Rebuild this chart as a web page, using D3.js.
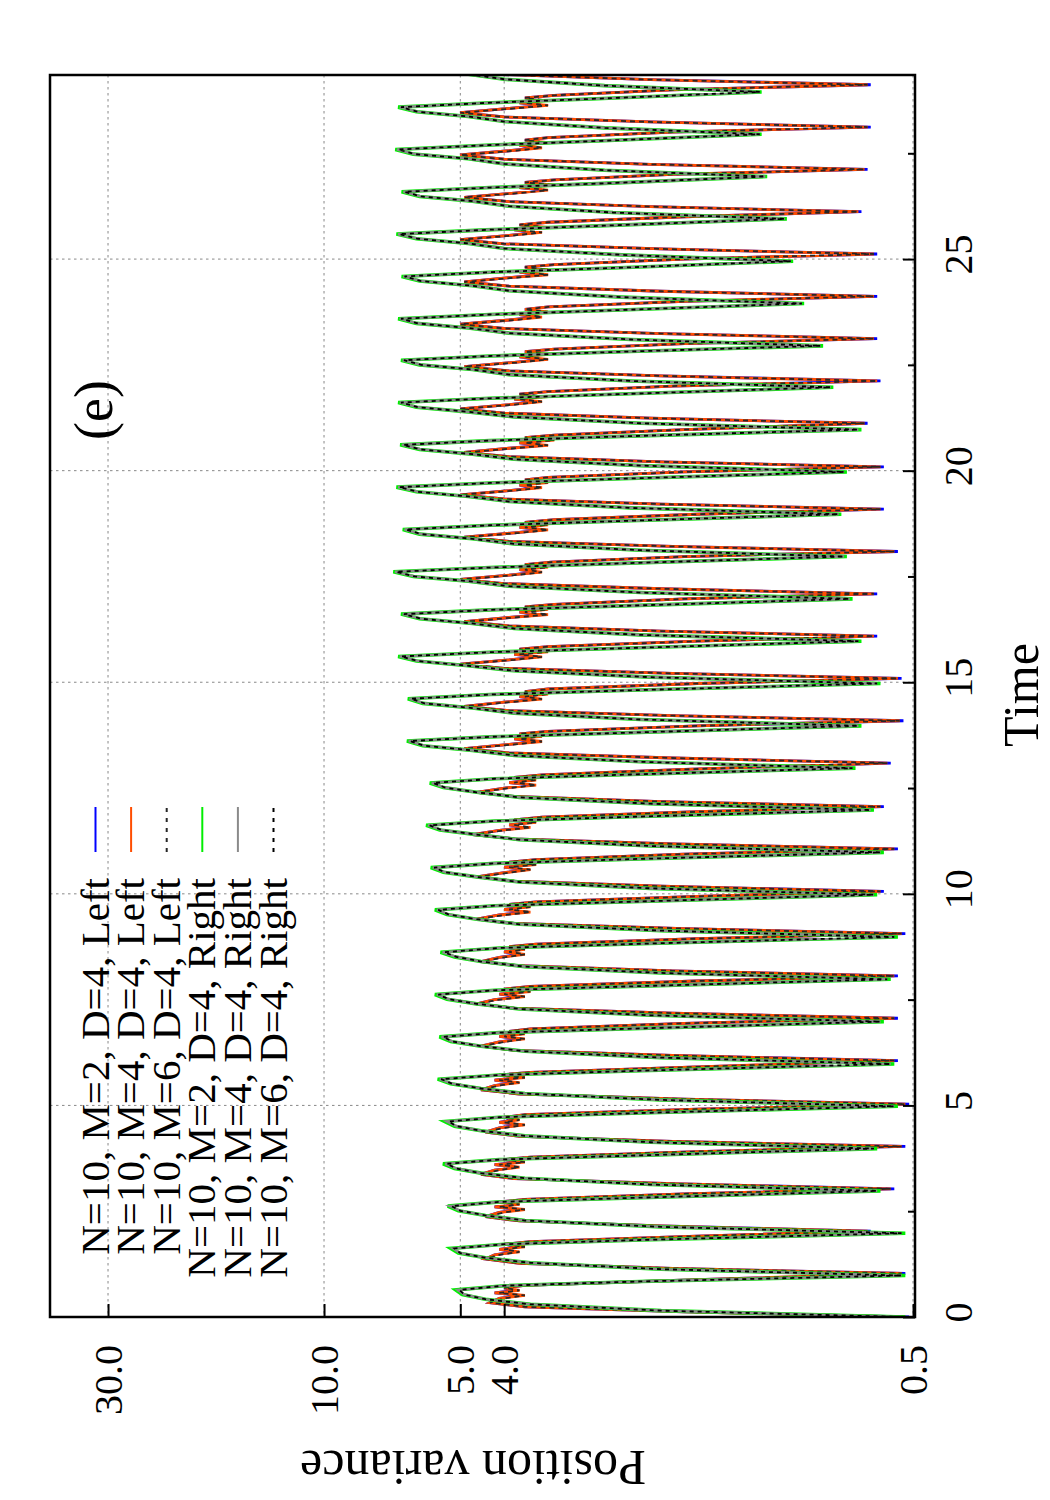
<!DOCTYPE html>
<html>
<head>
<meta charset="utf-8">
<script src="https://cdn.jsdelivr.net/npm/d3@7/dist/d3.min.js"></script>
<style>
body { margin: 0; background: #fff; }
text { font-family: "Liberation Serif", "Times New Roman", serif; fill: #000; }
</style>
</head>
<body>
<script>
// tick values
var timeMajor = [0, 5, 10, 15, 20, 25];
var timeMinor = [2.5, 7.5, 12.5, 17.5, 22.5, 27.5];
var varTicks = [0.5, 4, 5, 10, 30];

var seriesNames = ["N=10, M=2, D=4, Left", "N=10, M=4, D=4, Left", "N=10, M=6, D=4, Left",
                   "N=10, M=2, D=4, Right", "N=10, M=4, D=4, Right", "N=10, M=6, D=4, Right"];

// sample times, "Left" curves (one row per period)
var tLeft = [
 0.00,0.12,0.24,0.34,0.44,0.51,0.57,0.63,0.69,0.75,0.88,
 1.03,1.15,1.27,1.37,1.47,1.54,1.60,1.66,1.72,1.78,1.91,
 2.03,2.15,2.27,2.37,2.47,2.54,2.60,2.66,2.72,2.78,2.91,
 3.03,3.15,3.27,3.37,3.47,3.54,3.60,3.66,3.72,3.78,3.91,
 4.03,4.15,4.27,4.37,4.47,4.54,4.60,4.66,4.72,4.78,4.91,
 5.03,5.15,5.27,5.37,5.47,5.54,5.60,5.66,5.72,5.78,5.91,
 6.06,6.18,6.30,6.40,6.50,6.57,6.63,6.69,6.75,6.81,6.94,
 7.06,7.18,7.30,7.40,7.50,7.57,7.63,7.69,7.75,7.81,7.94,
 8.06,8.18,8.30,8.40,8.50,8.57,8.63,8.69,8.75,8.81,8.94,
 9.06,9.18,9.30,9.40,9.50,9.57,9.63,9.69,9.75,9.81,9.94,
 10.06,10.18,10.30,10.40,10.50,10.57,10.63,10.69,10.75,10.81,10.94,
 11.06,11.18,11.30,11.40,11.50,11.57,11.63,11.69,11.75,11.81,11.94,
 12.06,12.18,12.30,12.40,12.50,12.57,12.63,12.69,12.75,12.81,12.94,
 13.09,13.21,13.33,13.43,13.53,13.60,13.66,13.72,13.78,13.84,13.97,
 14.09,14.21,14.33,14.43,14.53,14.60,14.66,14.72,14.78,14.84,14.97,
 15.09,15.21,15.33,15.43,15.53,15.60,15.66,15.72,15.78,15.84,15.97,
 16.09,16.21,16.33,16.43,16.53,16.60,16.66,16.72,16.78,16.84,16.97,
 17.09,17.21,17.33,17.43,17.53,17.60,17.66,17.72,17.78,17.84,17.97,
 18.09,18.21,18.33,18.43,18.53,18.60,18.66,18.72,18.78,18.84,18.97,
 19.09,19.21,19.33,19.43,19.53,19.60,19.66,19.72,19.78,19.84,19.97,
 20.09,20.21,20.33,20.43,20.53,20.60,20.66,20.72,20.78,20.84,20.97,
 21.12,21.24,21.36,21.46,21.56,21.63,21.69,21.75,21.81,21.87,22.00,
 22.12,22.24,22.36,22.46,22.56,22.63,22.69,22.75,22.81,22.87,23.00,
 23.12,23.24,23.36,23.46,23.56,23.63,23.69,23.75,23.81,23.87,24.00,
 24.12,24.24,24.36,24.46,24.56,24.63,24.69,24.75,24.81,24.87,25.00,
 25.12,25.24,25.36,25.46,25.56,25.63,25.69,25.75,25.81,25.87,26.00,
 26.12,26.24,26.36,26.46,26.56,26.63,26.69,26.75,26.81,26.87,27.00,
 27.12,27.24,27.36,27.46,27.56,27.63,27.69,27.75,27.81,27.87,28.00,
 28.12,28.24,28.36,28.46,28.56,28.63,28.69,28.75,28.81,28.87,29.00,
 29.12,29.24,29.36,29.46,29.56,29.63,29.69,29.75,29.81,29.87,30.00
];

var leftM2 = [
 .51,1.6,3.6,4.3,4.1,3.7,4.2,3.8,4.0,3.6,1.5,
 .52,1.7,3.7,4.4,4.2,3.8,4.1,3.7,4.0,3.5,1.5,
 .62,1.8,3.7,4.4,4.1,3.7,4.2,3.8,4.1,3.6,1.6,
 .55,1.7,3.8,4.5,4.2,3.8,4.2,3.7,4.0,3.5,1.5,
 .52,1.7,3.7,4.4,4.1,3.7,4.1,3.8,4.0,3.6,1.5,
 .51,1.6,3.7,4.5,4.2,3.8,4.2,3.7,4.1,3.5,1.5,
 .54,1.7,3.8,4.5,4.1,3.7,4.1,3.7,3.9,3.5,1.6,
 .54,1.7,3.8,4.6,4.2,3.7,4.1,3.6,4.0,3.5,1.5,
 .54,1.7,3.7,4.5,4.1,3.7,4.0,3.7,3.9,3.4,1.5,
 .52,1.6,3.8,4.6,4.1,3.6,4.0,3.6,3.9,3.4,1.5,
 .58,1.8,3.8,4.6,4.0,3.6,4.0,3.5,3.9,3.4,1.6,
 .54,1.7,3.8,4.7,4.1,3.6,3.9,3.5,3.8,3.3,1.5,
 .58,1.8,3.8,4.6,4.0,3.5,3.9,3.5,3.8,3.3,1.6,
 .56,1.7,3.9,4.9,3.9,3.4,3.8,3.4,3.7,3.2,1.5,
 .525,1.7,3.9,4.9,4.0,3.4,3.7,3.3,3.6,3.2,1.5,
 .53,1.7,4.0,5.0,3.9,3.4,3.8,3.3,3.7,3.2,1.5,
 .60,1.8,3.9,4.9,3.9,3.3,3.7,3.3,3.6,3.1,1.6,
 .60,1.8,4.0,5.0,3.9,3.4,3.7,3.3,3.6,3.15,1.6,
 .54,1.7,3.9,4.9,3.8,3.3,3.7,3.3,3.6,3.1,1.5,
 .58,1.8,4.0,5.0,3.9,3.4,3.7,3.3,3.6,3.2,1.6,
 .58,1.8,3.9,4.9,3.9,3.3,3.7,3.2,3.6,3.1,1.6,
 .63,1.9,4.0,5.0,3.9,3.4,3.8,3.3,3.7,3.2,1.7,
 .59,1.8,3.9,4.9,3.8,3.3,3.7,3.3,3.6,3.1,1.6,
 .60,1.8,4.0,5.0,3.9,3.4,3.7,3.3,3.6,3.2,1.6,
 .60,1.8,3.9,4.9,3.9,3.3,3.7,3.3,3.6,3.1,1.6,
 .60,1.8,4.0,5.0,3.9,3.4,3.8,3.3,3.7,3.2,1.6,
 .65,1.9,3.9,4.9,3.8,3.3,3.7,3.2,3.6,3.1,1.7,
 .63,1.9,4.0,5.0,3.9,3.4,3.7,3.3,3.6,3.2,1.7,
 .62,1.9,4.0,5.0,3.9,3.3,3.7,3.3,3.6,3.1,1.7,
 .62,1.9,4.0,5.0,3.9,3.4,3.7,3.3,3.6,3.2,1.7
];

var leftM4 = [
 .52,1.6,3.6,4.3,4.1,3.6,4.2,3.7,4.0,3.6,1.5,
 .53,1.7,3.7,4.4,4.2,3.7,4.1,3.6,4.0,3.5,1.5,
 .63,1.8,3.7,4.4,4.1,3.6,4.2,3.7,4.1,3.6,1.6,
 .56,1.7,3.8,4.5,4.2,3.7,4.2,3.6,4.0,3.5,1.5,
 .53,1.7,3.7,4.4,4.1,3.6,4.1,3.7,4.0,3.6,1.5,
 .52,1.6,3.7,4.5,4.2,3.7,4.2,3.6,4.1,3.5,1.5,
 .55,1.7,3.8,4.5,4.1,3.6,4.1,3.6,3.9,3.5,1.6,
 .55,1.7,3.8,4.6,4.2,3.6,4.1,3.5,4.0,3.5,1.5,
 .55,1.7,3.7,4.5,4.1,3.6,4.0,3.6,3.9,3.4,1.5,
 .53,1.6,3.8,4.6,4.1,3.5,4.0,3.5,3.9,3.4,1.5,
 .59,1.8,3.8,4.6,4.0,3.5,4.0,3.4,3.9,3.4,1.6,
 .55,1.7,3.8,4.7,4.1,3.5,3.9,3.4,3.8,3.3,1.5,
 .59,1.8,3.8,4.6,4.0,3.4,3.9,3.4,3.8,3.3,1.6,
 .57,1.7,3.9,4.9,3.9,3.3,3.8,3.3,3.7,3.2,1.5,
 .535,1.7,3.9,4.9,4.0,3.3,3.7,3.2,3.6,3.2,1.5,
 .54,1.7,4.0,5.0,3.9,3.3,3.8,3.2,3.7,3.2,1.5,
 .61,1.8,3.9,4.9,3.9,3.2,3.7,3.2,3.6,3.1,1.6,
 .61,1.8,4.0,5.0,3.9,3.3,3.7,3.2,3.6,3.15,1.6,
 .55,1.7,3.9,4.9,3.8,3.2,3.7,3.2,3.6,3.1,1.5,
 .59,1.8,4.0,5.0,3.9,3.3,3.7,3.2,3.6,3.2,1.6,
 .59,1.8,3.9,4.9,3.9,3.2,3.7,3.1,3.6,3.1,1.6,
 .64,1.9,4.0,5.0,3.9,3.3,3.8,3.2,3.7,3.2,1.7,
 .60,1.8,3.9,4.9,3.8,3.2,3.7,3.2,3.6,3.1,1.6,
 .61,1.8,4.0,5.0,3.9,3.3,3.7,3.2,3.6,3.2,1.6,
 .61,1.8,3.9,4.9,3.9,3.2,3.7,3.2,3.6,3.1,1.6,
 .61,1.8,4.0,5.0,3.9,3.3,3.8,3.2,3.7,3.2,1.6,
 .66,1.9,3.9,4.9,3.8,3.2,3.7,3.1,3.6,3.1,1.7,
 .64,1.9,4.0,5.0,3.9,3.3,3.7,3.2,3.6,3.2,1.7,
 .63,1.9,4.0,5.0,3.9,3.2,3.7,3.2,3.6,3.1,1.7,
 .63,1.9,4.0,5.0,3.9,3.3,3.7,3.2,3.6,3.2,1.7
];

var leftM6 = [
 .52,1.6,3.6,4.3,4.0,3.6,4.1,3.7,4.0,3.6,1.5,
 .53,1.7,3.7,4.4,4.1,3.7,4.0,3.6,4.0,3.5,1.5,
 .63,1.8,3.7,4.4,4.0,3.6,4.1,3.7,4.1,3.6,1.6,
 .56,1.7,3.8,4.5,4.1,3.7,4.1,3.6,4.0,3.5,1.5,
 .53,1.7,3.7,4.4,4.0,3.6,4.0,3.7,4.0,3.6,1.5,
 .52,1.6,3.7,4.5,4.1,3.7,4.1,3.6,4.1,3.5,1.5,
 .55,1.7,3.8,4.5,4.0,3.6,4.0,3.6,3.9,3.5,1.6,
 .55,1.7,3.8,4.6,4.1,3.6,4.0,3.5,4.0,3.5,1.5,
 .55,1.7,3.7,4.5,4.0,3.6,3.9,3.6,3.9,3.4,1.5,
 .53,1.6,3.8,4.6,4.0,3.5,3.9,3.5,3.9,3.4,1.5,
 .59,1.8,3.8,4.6,3.9,3.5,3.9,3.4,3.9,3.4,1.6,
 .55,1.7,3.8,4.7,4.0,3.5,3.8,3.4,3.8,3.3,1.5,
 .59,1.8,3.8,4.6,3.9,3.4,3.8,3.4,3.8,3.3,1.6,
 .57,1.7,3.9,4.9,3.8,3.3,3.7,3.3,3.7,3.2,1.5,
 .535,1.7,3.9,4.9,3.9,3.3,3.6,3.2,3.6,3.2,1.5,
 .54,1.7,4.0,5.0,3.8,3.3,3.7,3.2,3.7,3.2,1.5,
 .61,1.8,3.9,4.9,3.8,3.2,3.6,3.2,3.6,3.1,1.6,
 .61,1.8,4.0,5.0,3.8,3.3,3.6,3.2,3.6,3.15,1.6,
 .55,1.7,3.9,4.9,3.7,3.2,3.6,3.2,3.6,3.1,1.5,
 .59,1.8,4.0,5.0,3.8,3.3,3.6,3.2,3.6,3.2,1.6,
 .59,1.8,3.9,4.9,3.8,3.2,3.6,3.1,3.6,3.1,1.6,
 .64,1.9,4.0,5.0,3.8,3.3,3.7,3.2,3.7,3.2,1.7,
 .60,1.8,3.9,4.9,3.7,3.2,3.6,3.2,3.6,3.1,1.6,
 .61,1.8,4.0,5.0,3.8,3.3,3.6,3.2,3.6,3.2,1.6,
 .61,1.8,3.9,4.9,3.8,3.2,3.6,3.2,3.6,3.1,1.6,
 .61,1.8,4.0,5.0,3.8,3.3,3.7,3.2,3.7,3.2,1.6,
 .66,1.9,3.9,4.9,3.7,3.2,3.6,3.1,3.6,3.1,1.7,
 .64,1.9,4.0,5.0,3.8,3.3,3.6,3.2,3.6,3.2,1.7,
 .63,1.9,4.0,5.0,3.8,3.2,3.6,3.2,3.6,3.1,1.7,
 .63,1.9,4.0,5.0,3.8,3.3,3.6,3.2,3.6,3.2,1.7
];

// sample times, "Right" curves
var tRight = [
 0.00,0.15,0.30,0.42,0.53,0.64,0.74,0.84,
 0.98,1.13,1.28,1.40,1.51,1.62,1.72,1.82,
 1.98,2.13,2.28,2.40,2.51,2.62,2.72,2.82,
 2.98,3.13,3.28,3.40,3.51,3.62,3.72,3.82,
 3.98,4.13,4.28,4.40,4.51,4.62,4.72,4.82,
 4.98,5.13,5.28,5.40,5.51,5.62,5.72,5.82,
 5.98,6.13,6.28,6.40,6.51,6.62,6.72,6.82,
 6.98,7.13,7.28,7.40,7.51,7.62,7.72,7.82,
 7.98,8.13,8.28,8.40,8.51,8.62,8.72,8.82,
 8.98,9.13,9.28,9.40,9.51,9.62,9.72,9.82,
 9.98,10.13,10.28,10.40,10.51,10.62,10.72,10.82,
 10.98,11.13,11.28,11.40,11.51,11.62,11.72,11.82,
 11.98,12.13,12.28,12.40,12.51,12.62,12.72,12.82,
 12.97,13.12,13.27,13.39,13.50,13.61,13.71,13.81,
 13.97,14.12,14.27,14.39,14.50,14.61,14.71,14.81,
 14.97,15.12,15.27,15.39,15.50,15.61,15.71,15.81,
 15.97,16.12,16.27,16.39,16.50,16.61,16.71,16.81,
 16.97,17.12,17.27,17.39,17.50,17.61,17.71,17.81,
 17.97,18.12,18.27,18.39,18.50,18.61,18.71,18.81,
 18.97,19.12,19.27,19.39,19.50,19.61,19.71,19.81,
 19.97,20.12,20.27,20.39,20.50,20.61,20.71,20.81,
 20.97,21.12,21.27,21.39,21.50,21.61,21.71,21.81,
 21.97,22.12,22.27,22.39,22.50,22.61,22.71,22.81,
 22.95,23.10,23.25,23.37,23.48,23.59,23.69,23.79,
 23.95,24.10,24.25,24.37,24.48,24.59,24.69,24.79,
 24.95,25.10,25.25,25.37,25.48,25.59,25.69,25.79,
 25.95,26.10,26.25,26.37,26.48,26.59,26.69,26.79,
 26.95,27.10,27.25,27.37,27.48,27.59,27.69,27.79,
 27.95,28.10,28.25,28.37,28.48,28.59,28.69,28.79,
 28.95,29.10,29.25,29.37,29.48,29.59,29.69,29.79,
 29.95
];

var rightM2 = [
 .52,1.8,3.5,4.4,4.95,5.12,4.0,2.0,
 .52,1.8,3.5,4.4,5.05,5.25,4.0,2.0,
 .52,1.8,3.6,4.4,5.05,5.33,4.1,2.0,
 .59,1.9,3.6,4.5,5.15,5.46,4.1,2.0,
 .60,1.9,3.6,4.5,5.15,5.41,4.1,2.0,
 .54,1.8,3.6,4.5,5.25,5.61,4.1,2.0,
 .55,1.8,3.6,4.5,5.25,5.56,4.1,2.0,
 .58,1.9,3.7,4.6,5.35,5.69,4.2,2.0,
 .56,1.8,3.6,4.5,5.15,5.53,4.1,2.0,
 .54,1.8,3.7,4.6,5.35,5.69,4.2,2.0,
 .60,1.9,3.7,4.6,5.45,5.81,4.2,2.1,
 .58,1.9,3.7,4.6,5.55,5.95,4.2,2.1,
 .61,1.9,3.7,4.6,5.45,5.84,4.2,2.1,
 .67,2.0,3.8,4.7,6.05,6.56,4.3,2.1,
 .65,2.0,3.8,4.7,6.05,6.53,4.3,2.1,
 .59,1.9,3.8,4.8,6.25,6.86,4.3,2.1,
 .65,2.0,3.8,4.7,6.15,6.76,4.3,2.1,
 .68,2.0,3.9,4.8,6.35,7.03,4.3,2.2,
 .70,2.0,3.8,4.7,6.15,6.70,4.3,2.2,
 .72,2.1,3.9,4.8,6.25,6.92,4.3,2.2,
 .70,2.0,3.8,4.7,6.15,6.79,4.3,2.2,
 .65,2.0,3.8,4.8,6.25,6.86,4.3,2.2,
 .75,2.1,3.9,4.7,6.15,6.76,4.3,2.2,
 .79,2.1,3.9,4.8,6.25,6.86,4.3,2.3,
 .87,2.2,3.9,4.7,6.15,6.74,4.3,2.3,
 .92,2.2,4.0,4.8,6.25,6.92,4.4,2.4,
 .95,2.3,3.9,4.7,6.15,6.74,4.3,2.4,
 1.05,2.4,4.0,4.8,6.35,6.96,4.4,2.5,
 1.08,2.4,4.0,4.8,6.25,6.86,4.4,2.5,
 1.08,2.4,4.0,4.8,6.25,6.86,4.4,2.5,
 1.08
];

var rightM4 = [
 .53,1.8,3.5,4.4,4.9,5.06,4.0,2.0,
 .53,1.8,3.5,4.4,5.0,5.19,4.0,2.0,
 .53,1.8,3.6,4.4,5.0,5.27,4.1,2.0,
 .60,1.9,3.6,4.5,5.1,5.40,4.1,2.0,
 .61,1.9,3.6,4.5,5.1,5.35,4.1,2.0,
 .55,1.8,3.6,4.5,5.2,5.55,4.1,2.0,
 .56,1.8,3.6,4.5,5.2,5.50,4.1,2.0,
 .59,1.9,3.7,4.6,5.3,5.63,4.2,2.0,
 .57,1.8,3.6,4.5,5.1,5.47,4.1,2.0,
 .55,1.8,3.7,4.6,5.3,5.63,4.2,2.0,
 .61,1.9,3.7,4.6,5.4,5.75,4.2,2.1,
 .59,1.9,3.7,4.6,5.5,5.89,4.2,2.1,
 .62,1.9,3.7,4.6,5.4,5.78,4.2,2.1,
 .68,2.0,3.8,4.7,6.0,6.50,4.3,2.1,
 .66,2.0,3.8,4.7,6.0,6.47,4.3,2.1,
 .60,1.9,3.8,4.8,6.2,6.80,4.3,2.1,
 .66,2.0,3.8,4.7,6.1,6.70,4.3,2.1,
 .69,2.0,3.9,4.8,6.3,6.97,4.3,2.2,
 .71,2.0,3.8,4.7,6.1,6.64,4.3,2.2,
 .73,2.1,3.9,4.8,6.2,6.86,4.3,2.2,
 .71,2.0,3.8,4.7,6.1,6.73,4.3,2.2,
 .66,2.0,3.8,4.8,6.2,6.80,4.3,2.2,
 .76,2.1,3.9,4.7,6.1,6.70,4.3,2.2,
 .80,2.1,3.9,4.8,6.2,6.80,4.3,2.3,
 .88,2.2,3.9,4.7,6.1,6.68,4.3,2.3,
 .93,2.2,4.0,4.8,6.2,6.86,4.4,2.4,
 .96,2.3,3.9,4.7,6.1,6.68,4.3,2.4,
 1.06,2.4,4.0,4.8,6.3,6.90,4.4,2.5,
 1.09,2.4,4.0,4.8,6.2,6.80,4.4,2.5,
 1.09,2.4,4.0,4.8,6.2,6.80,4.4,2.5,
 1.09
];

var rightM6 = [
 .53,1.8,3.5,4.4,4.9,5.02,4.0,2.0,
 .53,1.8,3.5,4.4,5.0,5.15,4.0,2.0,
 .53,1.8,3.6,4.4,5.0,5.23,4.1,2.0,
 .60,1.9,3.6,4.5,5.1,5.36,4.1,2.0,
 .61,1.9,3.6,4.5,5.1,5.31,4.1,2.0,
 .55,1.8,3.6,4.5,5.2,5.51,4.1,2.0,
 .56,1.8,3.6,4.5,5.2,5.46,4.1,2.0,
 .59,1.9,3.7,4.6,5.3,5.59,4.2,2.0,
 .57,1.8,3.6,4.5,5.1,5.43,4.1,2.0,
 .55,1.8,3.7,4.6,5.3,5.59,4.2,2.0,
 .61,1.9,3.7,4.6,5.4,5.71,4.2,2.1,
 .59,1.9,3.7,4.6,5.5,5.85,4.2,2.1,
 .62,1.9,3.7,4.6,5.4,5.74,4.2,2.1,
 .68,2.0,3.8,4.7,6.0,6.46,4.3,2.1,
 .66,2.0,3.8,4.7,6.0,6.43,4.3,2.1,
 .60,1.9,3.8,4.8,6.2,6.76,4.3,2.1,
 .66,2.0,3.8,4.7,6.1,6.66,4.3,2.1,
 .69,2.0,3.9,4.8,6.3,6.93,4.3,2.2,
 .71,2.0,3.8,4.7,6.1,6.60,4.3,2.2,
 .73,2.1,3.9,4.8,6.2,6.82,4.3,2.2,
 .71,2.0,3.8,4.7,6.1,6.69,4.3,2.2,
 .66,2.0,3.8,4.8,6.2,6.76,4.3,2.2,
 .76,2.1,3.9,4.7,6.1,6.66,4.3,2.2,
 .80,2.1,3.9,4.8,6.2,6.76,4.3,2.3,
 .88,2.2,3.9,4.7,6.1,6.64,4.3,2.3,
 .93,2.2,4.0,4.8,6.2,6.82,4.4,2.4,
 .96,2.3,3.9,4.7,6.1,6.64,4.3,2.4,
 1.06,2.4,4.0,4.8,6.3,6.86,4.4,2.5,
 1.09,2.4,4.0,4.8,6.2,6.76,4.4,2.5,
 1.09,2.4,4.0,4.8,6.2,6.76,4.4,2.5,
 1.09
];

var width = 1050, height = 1500;
// plot frame on the page (the whole figure is turned by -90 degrees)
var frame = {left: 50, right: 915, top: 75, bottom: 1317};

var svg = d3.select("body").append("svg")
            .attr("width", width)
            .attr("height", height);

svg.append("rect").attr("width", width).attr("height", height).attr("fill", "#fff");

// time runs upwards, variance runs leftwards (log)
var tScale = d3.scaleLinear().domain([0, 29.35]).range([frame.bottom, frame.top]);
var vScale = d3.scaleLog().domain([0.495, 40.3]).range([frame.right, frame.left]);

svg.append("clipPath").attr("id", "plotclip")
   .append("rect")
   .attr("x", frame.left).attr("y", frame.top)
   .attr("width", frame.right - frame.left)
   .attr("height", frame.bottom - frame.top);

//grid
svg.selectAll(".vgrid")
   .data(varTicks)
   .enter()
   .append("line")
   .attr("class", "vgrid")
   .attr("x1", function(d){return vScale(d);})
   .attr("x2", function(d){return vScale(d);})
   .attr("y1", frame.top)
   .attr("y2", frame.bottom)
   .attr("stroke", "#888")
   .attr("stroke-width", 1)
   .attr("stroke-dasharray", "2.5,3.5");

svg.selectAll(".hgrid")
   .data(timeMajor)
   .enter()
   .append("line")
   .attr("class", "hgrid")
   .attr("y1", function(d){return tScale(d);})
   .attr("y2", function(d){return tScale(d);})
   .attr("x1", frame.left)
   .attr("x2", frame.right)
   .attr("stroke", "#888")
   .attr("stroke-width", 1)
   .attr("stroke-dasharray", "2.5,3.5");

var series = [
  {name: seriesNames[0], t: tLeft,  v: leftM2,  color: "#0000ff", w: 2.8, dash: null},
  {name: seriesNames[1], t: tLeft,  v: leftM4,  color: "#ff4d00", w: 2.8, dash: null},
  {name: seriesNames[2], t: tLeft,  v: leftM6,  color: "#262626", w: 1.8, dash: "5,4"},
  {name: seriesNames[3], t: tRight, v: rightM2, color: "#00ee00", w: 3.6, dash: null},
  {name: seriesNames[4], t: tRight, v: rightM4, color: "#8a8a8a", w: 2.6, dash: null},
  {name: seriesNames[5], t: tRight, v: rightM6, color: "#000000", w: 1.8, dash: "4,4"}
];

var line = d3.line()
  .x(function(d){return vScale(d[1]);})
  .y(function(d){return tScale(d[0]);});

var plot = svg.append("g").attr("clip-path", "url(#plotclip)");

plot.selectAll("path")
    .data(series)
    .enter()
    .append("path")
    .attr("fill", "none")
    .attr("stroke", function(d){return d.color;})
    .attr("stroke-width", function(d){return d.w;})
    .attr("stroke-dasharray", function(d){return d.dash;})
    .attr("stroke-linejoin", "miter")
    .attr("d", function(d){
        return line(d.t.map(function(t, i){return [t, d.v[i]];}));
    });

// time axis (right edge of the page)
var tAxisGroup = svg.append("g").attr("transform", "translate(" + frame.right + ",0)");
tAxisGroup.call(d3.axisRight(tScale).tickValues(timeMajor).tickSize(-12).tickFormat(d3.format("d")));
var tMinorGroup = svg.append("g").attr("transform", "translate(" + frame.right + ",0)");
tMinorGroup.call(d3.axisRight(tScale).tickValues(timeMinor).tickSize(-7).tickFormat(""));

// variance axis (bottom edge of the page)
var vAxisGroup = svg.append("g").attr("transform", "translate(0," + frame.bottom + ")");
vAxisGroup.call(d3.axisBottom(vScale).tickValues(varTicks).tickSize(-13).tickFormat(d3.format(".1f")));

[tAxisGroup, tMinorGroup, vAxisGroup].forEach(function(g){
  g.select(".domain").remove();
  g.attr("font-family", null).attr("font-size", null);
  g.selectAll(".tick line").attr("stroke", "#000").attr("stroke-width", 2);
});

tAxisGroup.selectAll(".tick text")
  .attr("x", null).attr("dy", null)
  .attr("transform", "translate(57,-5) rotate(-90)")
  .attr("text-anchor", "middle")
  .style("font-size", "40px");

vAxisGroup.selectAll(".tick text")
  .attr("y", null).attr("dy", null)
  .attr("transform", "translate(13.5,28) rotate(-90)")
  .attr("text-anchor", "end")
  .style("font-size", "40px");

// frame
svg.append("rect")
   .attr("x", frame.left).attr("y", frame.top)
   .attr("width", frame.right - frame.left)
   .attr("height", frame.bottom - frame.top)
   .attr("fill", "none")
   .attr("stroke", "#000")
   .attr("stroke-width", 2.5);

// axis titles
svg.append("text")
   .attr("transform", "translate(1038,695) rotate(-90)")
   .attr("text-anchor", "middle")
   .style("font-size", "50px")
   .text("Time");

svg.append("text")
   .attr("transform", "translate(473,1451) rotate(180)")
   .attr("text-anchor", "middle")
   .style("font-size", "50px")
   .text("Position variance");

svg.append("text")
   .attr("transform", "translate(112,410) rotate(-90)")
   .attr("text-anchor", "middle")
   .style("font-size", "54px")
   .text("(e)");

//legend
var legend = svg.selectAll(".legend")
   .data(series)
   .enter()
   .append("g")
   .attr("class", "legend")
   .attr("transform", function(d, i){return "translate(" + (95.5 + i * 35.6) + ",0)";});

legend.append("text")
   .attr("transform", "translate(13,878) rotate(-90)")
   .attr("text-anchor", "end")
   .style("font-size", "41px")
   .text(function(d){return d.name;});

legend.append("line")
   .attr("x1", 0).attr("x2", 0)
   .attr("y1", 852).attr("y2", 807)
   .attr("stroke", function(d){return d.color;})
   .attr("stroke-width", 2)
   .attr("stroke-dasharray", function(d){return d.dash ? "4,6" : null;});
</script>
</body>
</html>
